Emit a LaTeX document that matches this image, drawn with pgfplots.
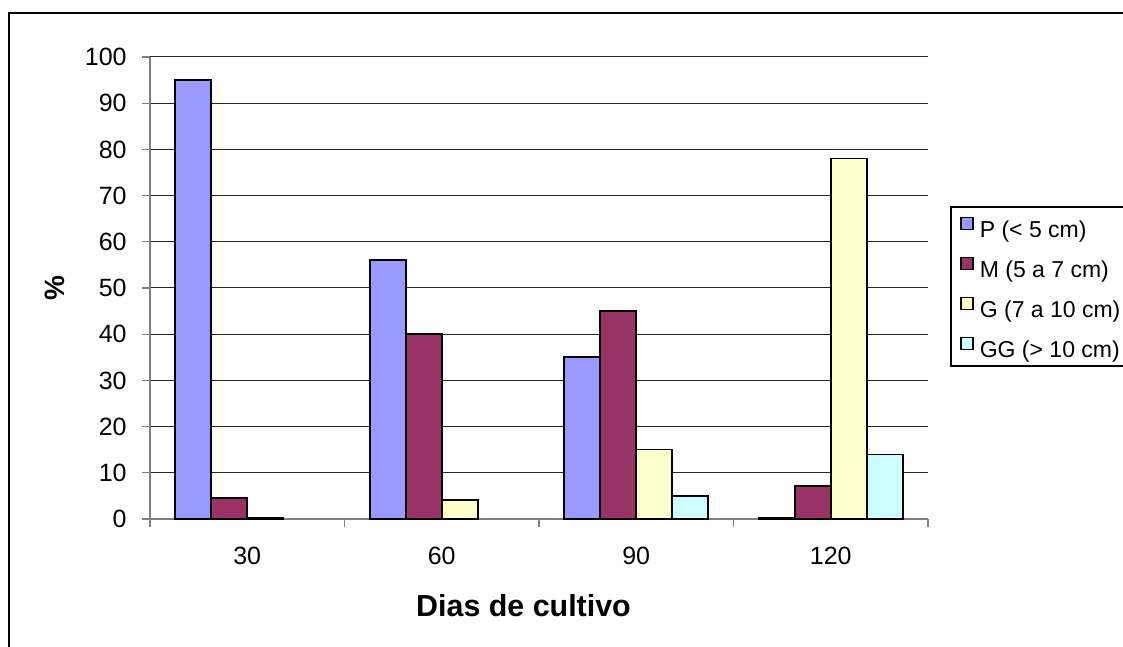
\documentclass[border=0pt]{standalone}
\usepackage{pgfplots}
\pgfplotsset{compat=1.18}
\usepackage{fontspec}
\setmainfont{Liberation Sans}

\definecolor{cP}{HTML}{9999FF}
\definecolor{cM}{HTML}{993366}
\definecolor{cG}{HTML}{FFFFCC}
\definecolor{cGG}{HTML}{CCFFFF}
\definecolor{axisgray}{HTML}{808080}

\pgfplotsset{
  sqlegend/.style={legend image code/.code={
      \draw[##1, line width=0.7pt] (0pt,1.1pt) rectangle (6pt,7.1pt);}},
}

\begin{document}
\begin{tikzpicture}
% page extent (1 px = 0.5 pt, origin at the lower left of the plot area)
\useasboundingbox (-75pt,-64pt) rectangle (486.5pt,259.5pt);
\begin{axis}[
  scale only axis,
  width=389pt, height=231pt,
  ybar,
  bar width=18pt,
  xmin=-0.5, xmax=3.5,
  ymin=0, ymax=100,
  ytick={0,10,...,100},
  xtick={-0.5,0.5,1.5,2.5,3.5},
  xticklabels={},
  extra x ticks={0,1,2,3},
  extra x tick labels={30,60,90,120},
  extra x tick style={major tick length=0pt, grid=none,
    xticklabel style={yshift=-10.5pt}},
  axis x line*=bottom,
  axis y line*=left,
  axis line style={draw=axisgray, line width=0.6pt},
  tick style={draw=axisgray, line width=0.6pt},
  major tick length=4pt,
  tick align=outside,
  ymajorgrids,
  grid style={draw=black!85, line width=0.5pt},
  tick label style={font=\fontsize{12.5}{14}\selectfont},
  /pgf/number format/assume math mode=true,
  yticklabel style={anchor=east, inner sep=0pt, xshift=-7.5pt},
  xlabel={Dias de cultivo},
  ylabel={\%},
  xlabel style={font=\bfseries\fontsize{15.2}{17}\selectfont,
    at={(axis description cs:0.4801,-0.1883)}, anchor=center, inner sep=0pt},
  ylabel style={font=\bfseries\fontsize{14}{16}\selectfont,
    at={(axis description cs:-0.1221,0.5)}, anchor=center, rotate=0, inner sep=0pt},
  clip=false,
  legend cell align=left,
  legend style={
    at={(axis description cs:1.0296,0.6753)}, anchor=north west,
    draw=none, fill=none,
    font=\fontsize{11.5}{13}\selectfont,
    inner xsep=4.5pt, inner ysep=4.75pt,
    column sep=3pt, row sep=7pt,
    nodes={inner sep=0pt, text height=8.5pt, text depth=2.5pt},
  },
]
\addplot[fill=cP, draw=black, line width=0.8pt, bar shift=-27pt, sqlegend]
  coordinates {(0,95) (1,56) (2,35) (3,0.3)};
\addplot[fill=cM, draw=black, line width=0.8pt, bar shift=-9pt, sqlegend]
  coordinates {(0,4.5) (1,40) (2,45) (3,7.2)};
\addplot[fill=cG, draw=black, line width=0.8pt, bar shift=9pt, sqlegend]
  coordinates {(0,0.3) (1,4.1) (2,15) (3,78)};
\addplot[fill=cGG, draw=black, line width=0.8pt, bar shift=27pt, sqlegend]
  coordinates {(2,5) (3,14)};
\legend{P (< 5 cm), M (5 a 7 cm), G (7 a 10 cm), GG (> 10 cm)}
\end{axis}
% legend frame and outer chart border
\draw[black, line width=0.6pt] (400.5pt,156pt) rectangle (495pt,76.5pt);
\draw[black, line width=0.8pt] (-70.5pt,-70pt) -- (-70.5pt,253pt) -- (495pt,253pt);
\end{tikzpicture}
\end{document}
